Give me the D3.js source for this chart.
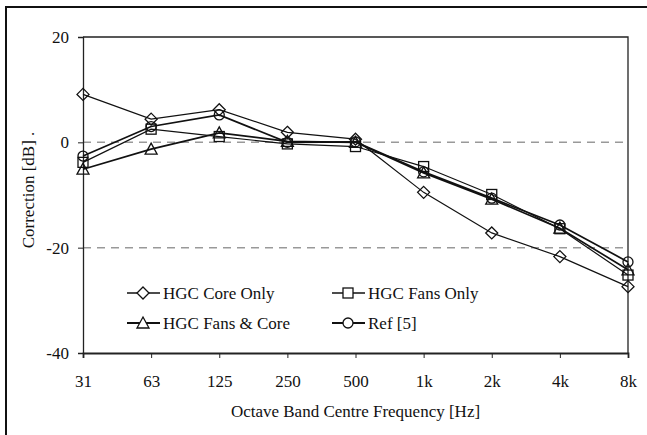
<!DOCTYPE html>
<html>
<head>
<meta charset="utf-8">
<script src="https://cdn.jsdelivr.net/npm/d3@7"></script>
</head>
<body style="margin:0;background:#fff">
<script>
// octave band centres and corrections in dB
const bands = ["31", "63", "125", "250", "500", "1k", "2k", "4k", "8k"];
const coreOnly = [9.1, 4.4, 6.2, 1.9, 0.6, -9.5, -17.2, -21.7, -27.4];
const fansOnly = [-3.8, 2.5, 1.1, -0.3, -0.8, -4.6, -9.9, -16.4, -25.2];
const fansCore = [-5.1, -1.3, 1.8, 0.2, 0.0, -5.8, -10.8, -16.3, -24.2];
const ref5 = [-2.6, 3.0, 5.2, 0.0, 0.1, -5.6, -10.6, -15.7, -22.7];
const yTicks = [20, 0, -20, -40];
const gridAt = [0, -20];

const series = [
  {name: "HGC Core Only", values: coreOnly, symbol: "diamond", width: 1.2},
  {name: "HGC Fans Only", values: fansOnly, symbol: "square", width: 1.2},
  {name: "HGC Fans & Core", values: fansCore, symbol: "triangle", width: 1.7},
  {name: "Ref [5]", values: ref5, symbol: "circle", width: 1.7}
];

const width = 647, height = 435;
const margin = {top: 37, right: 19, bottom: 82, left: 83};
const font = "'Liberation Serif'";
const ink = "#111";

const svg = d3.select("body").append("svg")
    .attr("width", width)
    .attr("height", height)
    .style("display", "block");

// outer frame, runs off the right and bottom of the picture
svg.append("rect")
    .attr("x", 6).attr("y", 7)
    .attr("width", width).attr("height", height)
    .attr("fill", "none")
    .attr("stroke", ink)
    .attr("stroke-width", 2);

const x = d3.scalePoint(bands, [margin.left, width - margin.right]);
const y = d3.scaleLinear([-40, 20], [height - margin.bottom, margin.top]);

// dashed reference lines
svg.append("g")
  .selectAll("line")
  .data(gridAt)
  .join("line")
    .attr("x1", margin.left)
    .attr("x2", width - margin.right)
    .attr("y1", d => y(d))
    .attr("y2", d => y(d))
    .attr("stroke", "#999")
    .attr("stroke-width", 1.5)
    .attr("stroke-dasharray", "8,6");

// plot box top and right
svg.append("path")
    .attr("d", `M${margin.left},${margin.top}H${width - margin.right}V${height - margin.bottom}`)
    .attr("fill", "none")
    .attr("stroke", "#222")
    .attr("stroke-width", 1.3);

svg.append("g")
    .attr("transform", `translate(${margin.left},0)`)
    .call(d3.axisLeft(y).tickValues(yTicks).tickSize(5).tickPadding(9).tickFormat(d => String(d)))
    .call(g => g.select(".domain").attr("stroke", "#222").attr("stroke-width", 1.3))
    .call(g => g.selectAll(".tick line").attr("stroke", "#222"))
    .call(g => g.selectAll("text").style("font-family", font).style("font-size", "17px").attr("fill", ink));

svg.append("g")
    .attr("transform", `translate(0,${height - margin.bottom})`)
    .call(d3.axisBottom(x).tickSize(5).tickPadding(17))
    .call(g => g.select(".domain").attr("stroke", "#222").attr("stroke-width", 1.8))
    .call(g => g.selectAll(".tick line").attr("stroke", "#222"))
    .call(g => g.selectAll("text").style("font-family", font).style("font-size", "17px").attr("fill", ink));

svg.append("text")
    .attr("x", (margin.left + width - margin.right) / 2)
    .attr("y", 417)
    .attr("text-anchor", "middle")
    .style("font-family", font)
    .style("font-size", "17px")
    .attr("fill", ink)
    .text("Octave Band Centre Frequency [Hz]");

svg.append("text")
    .attr("transform", `translate(34,${(margin.top + height - margin.bottom) / 2 - 5}) rotate(-90)`)
    .attr("text-anchor", "middle")
    .style("font-family", font)
    .style("font-size", "17px")
    .attr("fill", ink)
    .text("Correction [dB] .");

// marker shapes
function marker(g, symbol) {
  if (symbol === "diamond") {
    g.append("path").attr("d", "M0,-6L6,0L0,6L-6,0Z");
  } else if (symbol === "square") {
    g.append("rect").attr("x", -5).attr("y", -5).attr("width", 10).attr("height", 10);
  } else if (symbol === "triangle") {
    g.append("path").attr("d", "M0,-6L6,5H-6Z");
  } else {
    g.append("circle").attr("r", 5);
  }
  g.selectAll("*").attr("fill", "none").attr("stroke", ink).attr("stroke-width", 1.3);
}

const line = d3.line()
    .x((d, i) => x(bands[i]))
    .y(d => y(d));

for (const s of series) {
  svg.append("path")
      .attr("d", line(s.values))
      .attr("fill", "none")
      .attr("stroke", ink)
      .attr("stroke-width", s.width);
  s.values.forEach((v, i) => {
    const g = svg.append("g").attr("transform", `translate(${x(bands[i])},${y(v)})`);
    marker(g, s.symbol);
  });
}

// legend
const legendCols = [127, 332];
const legendRows = [293, 323];
series.forEach((s, i) => {
  const lx = legendCols[i % 2], ly = legendRows[Math.floor(i / 2)];
  const g = svg.append("g").attr("transform", `translate(${lx},${ly})`);
  g.append("line")
      .attr("x1", 0).attr("x2", 33)
      .attr("stroke", ink)
      .attr("stroke-width", s.width + 0.3);
  const m = g.append("g").attr("transform", "translate(16,0)");
  marker(m, s.symbol);
  m.selectAll("*").attr("fill", "#fff");
  g.append("text")
      .attr("x", 36)
      .attr("dy", "0.35em")
      .style("font-family", font)
      .style("font-size", "17px")
      .attr("fill", ink)
      .text(s.name);
});
</script>
</body>
</html>
